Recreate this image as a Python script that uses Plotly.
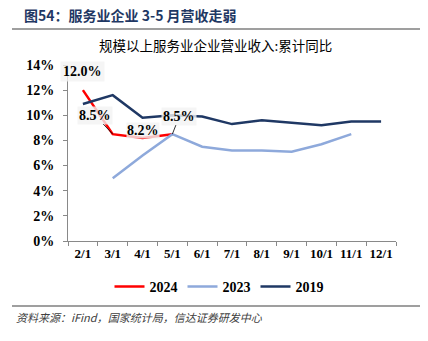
import plotly.graph_objects as go

months = ["2/1", "3/1", "4/1", "5/1", "6/1", "7/1", "8/1", "9/1", "10/1", "11/1", "12/1"]
s2024 = [12.0, 8.5, 8.2, 8.5, None, None, None, None, None, None, None]
s2023 = [None, 5.0, 6.8, 8.5, 7.5, 7.2, 7.2, 7.1, 7.7, 8.5, None]
s2019 = [10.9, 11.6, 9.8, 10.0, 9.9, 9.3, 9.6, 9.4, 9.2, 9.5, 9.5]
y_ticks = [0, 2, 4, 6, 8, 10, 12, 14]

L, R, T, B = 68, 32, 65, 100
W, H = 428, 341
PW, PH = W - L - R, H - T - B

def px(x):
    return (x - L) / PW

def py(y):
    return (H - B - y) / PH

fig = go.Figure()
fig.add_trace(go.Scatter(x=months, y=s2024, name="2024", mode="lines",
                         line=dict(color="#FF0000", width=2.5)))
fig.add_trace(go.Scatter(x=months, y=s2023, name="2023", mode="lines",
                         line=dict(color="#8EA9DB", width=2.5)))
fig.add_trace(go.Scatter(x=months, y=s2019, name="2019", mode="lines",
                         line=dict(color="#1F3864", width=2.5)))

lab_font = dict(family="Liberation Serif", size=14, color="black")
bg = "rgba(242,242,242,0.8)"
# data labels for 2024
fig.add_annotation(x=months[0], y=s2024[0], text="<b>12.0%</b>", showarrow=False,
                   yshift=19, font=lab_font, bgcolor=bg, borderpad=2)
fig.add_annotation(x=months[1], y=s2024[1], text="<b>8.5%</b>", showarrow=True,
                   arrowhead=0, arrowwidth=0.8, arrowcolor="black", ax=-18, ay=-19,
                   font=lab_font, bgcolor=bg, borderpad=1)
fig.add_annotation(x=months[2], y=s2024[2], text="<b>8.2%</b>", showarrow=False,
                   yshift=7, font=lab_font, bgcolor=bg, borderpad=0)
fig.add_annotation(x=months[3], y=s2024[3], text="<b>8.5%</b>", showarrow=True,
                   arrowhead=0, arrowwidth=0.8, arrowcolor="black", ax=7, ay=-18,
                   font=lab_font, bgcolor=bg, borderpad=1)

# header
fig.add_annotation(xref="paper", yref="paper", x=px(22), y=py(15), xanchor="left",
                   yanchor="middle", showarrow=False,
                   text="<b>图54：服务业企业 3-5 月营收走弱</b>",
                   font=dict(family="Noto Sans CJK SC", size=14, color="#1F3864"))
fig.add_shape(type="line", xref="paper", yref="paper", x0=px(12), x1=px(420),
              y0=py(29), y1=py(29), line=dict(color="#7F7F7F", width=1.5))
# chart title
fig.add_annotation(xref="paper", yref="paper", x=px(215), y=py(45), xanchor="center",
                   yanchor="middle", showarrow=False,
                   text="规模以上服务业企业营业收入:累计同比",
                   font=dict(family="Noto Sans CJK SC", size=13.5, color="black"))
# footer
fig.add_shape(type="line", xref="paper", yref="paper", x0=px(12), x1=px(420),
              y0=py(306), y1=py(306), line=dict(color="#7F7F7F", width=1.5))
fig.add_annotation(xref="paper", yref="paper", x=px(14), y=py(317), xanchor="left",
                   yanchor="middle", showarrow=False,
                   text="<i>资料来源：iFind，国家统计局，信达证券研发中心</i>",
                   font=dict(family="Noto Sans CJK SC", size=11, color="#404040"))

fig.update_layout(
    width=W, height=H,
    margin=dict(l=L, r=R, t=T, b=B),
    paper_bgcolor="white", plot_bgcolor="white",
    showlegend=True,
    legend=dict(orientation="h", x=px(219), y=py(287), xanchor="center", yanchor="middle",
                font=dict(family="Liberation Serif", size=14, color="black", weight="bold"),
                itemwidth=30, tracegroupgap=0, bgcolor="rgba(0,0,0,0)"),
    xaxis=dict(type="category", categoryorder="array", categoryarray=months,
               range=[-0.5, len(months) - 0.5],
               showgrid=False, showline=True, linecolor="#898989", linewidth=1,
               ticks="outside", ticklen=4, tickcolor="#898989", tickson="boundaries",
               tickangle=0,
               tickfont=dict(family="Liberation Serif", size=13, color="black", weight="bold"),
               fixedrange=True),
    yaxis=dict(range=[0, 14], tickvals=y_ticks,
               ticktext=[f"{v}%" for v in y_ticks],
               showgrid=False, showline=True, linecolor="#898989", linewidth=1,
               ticks="outside", ticklen=4, tickcolor="#898989", zeroline=False,
               ticklabelstandoff=6,
               tickfont=dict(family="Liberation Serif", size=14, color="black", weight="bold"),
               fixedrange=True),
)

fig.write_html("out.html")
